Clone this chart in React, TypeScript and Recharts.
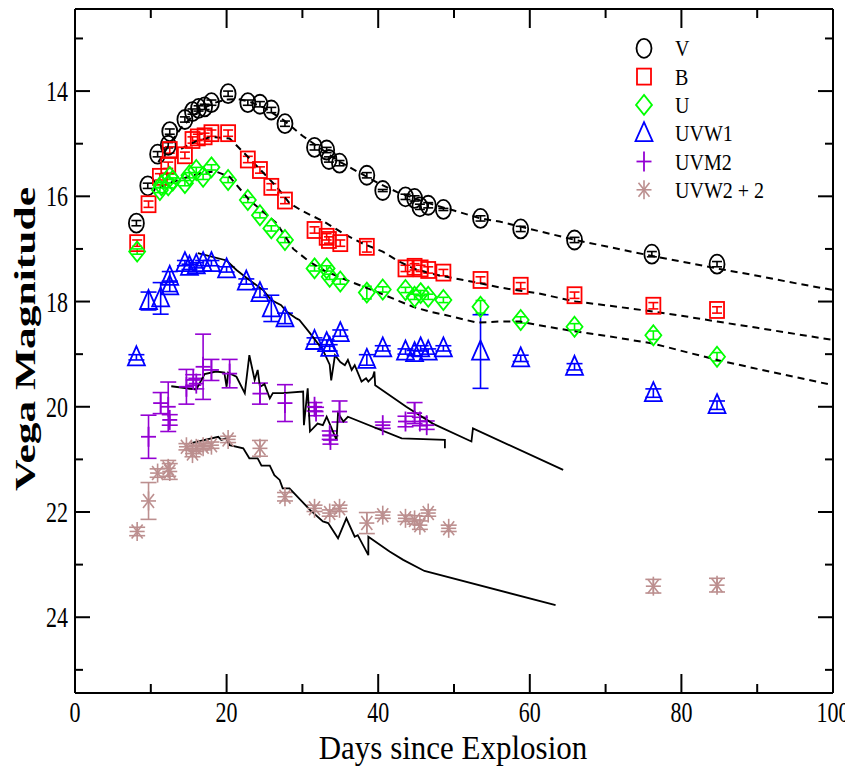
import React from 'react';
import { ComposedChart, Scatter, Line, XAxis, YAxis, ErrorBar, Legend } from 'recharts';

const FONT = '"Liberation Serif", "Times New Roman", serif';
const SY = 1.3;

// ---------- observations ----------
const vDays = [8.1, 9.6, 10.9, 12.3, 12.5, 14.5, 15.5, 16.3, 17.1, 18.0, 20.2, 22.8, 24.4, 25.9, 27.7, 31.6, 33.2, 33.5, 34.9, 38.5, 40.6, 43.6, 44.8, 45.5, 46.6, 48.6, 53.5, 58.8, 65.9, 76.1, 84.7];
const vMag = [16.51, 15.80, 15.20, 15.03, 14.77, 14.54, 14.39, 14.33, 14.30, 14.22, 14.05, 14.22, 14.25, 14.36, 14.62, 15.07, 15.12, 15.30, 15.37, 15.60, 15.89, 16.01, 16.04, 16.20, 16.17, 16.25, 16.42, 16.62, 16.83, 17.10, 17.29];
const vErr = [0.05, 0.05, 0.05, 0.05, 0.05, 0.05, 0.05, 0.05, 0.05, 0.05, 0.05, 0.05, 0.05, 0.05, 0.05, 0.05, 0.05, 0.05, 0.05, 0.05, 0.02, 0.05, 0.05, 0.05, 0.05, 0.02, 0.05, 0.05, 0.05, 0.05, 0.05];

const bDays = [8.2, 9.7, 11.2, 12.3, 12.5, 14.5, 15.5, 16.2, 17.1, 18.0, 20.2, 22.8, 24.4, 25.9, 27.7, 31.6, 33.2, 33.5, 35.0, 38.5, 43.6, 44.8, 45.6, 46.6, 48.6, 53.5, 58.8, 65.9, 76.3, 84.7];
const bMag = [16.89, 16.15, 15.63, 15.41, 15.12, 15.22, 14.93, 14.88, 14.86, 14.80, 14.80, 15.30, 15.50, 15.82, 16.08, 16.64, 16.77, 16.83, 16.89, 16.96, 17.37, 17.34, 17.37, 17.40, 17.45, 17.59, 17.70, 17.88, 18.08, 18.16];
const bErr = [0.06, 0.06, 0.06, 0.06, 0.06, 0.06, 0.06, 0.06, 0.06, 0.06, 0.06, 0.06, 0.06, 0.06, 0.06, 0.06, 0.06, 0.06, 0.06, 0.1, 0.06, 0.06, 0.06, 0.06, 0.06, 0.06, 0.06, 0.06, 0.06, 0.06];

const uDays = [8.2, 11.2, 11.4, 12.3, 12.5, 12.9, 14.5, 15.1, 16.0, 16.9, 18.0, 20.2, 22.8, 24.4, 25.9, 27.7, 31.6, 33.2, 33.6, 35.0, 38.5, 40.6, 43.6, 44.8, 45.6, 46.6, 48.6, 53.5, 58.8, 65.9, 76.3, 84.7];
const uMag = [17.05, 15.88, 15.79, 15.79, 15.63, 15.70, 15.75, 15.60, 15.50, 15.63, 15.45, 15.69, 16.07, 16.36, 16.61, 16.83, 17.37, 17.37, 17.53, 17.62, 17.83, 17.77, 17.78, 17.91, 17.84, 17.91, 17.97, 18.10, 18.35, 18.48, 18.64, 19.05];
const uErr = [0.05, 0.05, 0.05, 0.05, 0.05, 0.05, 0.05, 0.05, 0.05, 0.05, 0.05, 0.05, 0.05, 0.05, 0.05, 0.05, 0.05, 0.05, 0.05, 0.05, 0.12, 0.05, 0.05, 0.05, 0.05, 0.05, 0.05, 0.12, 0.06, 0.06, 0.08, 0.08];

const w1Days = [8.1, 9.7, 11.3, 12.5, 12.5, 14.5, 15.1, 16.0, 16.9, 18.0, 20.0, 22.6, 24.4, 25.9, 27.7, 31.6, 33.2, 33.6, 35.0, 38.5, 40.6, 43.6, 44.8, 45.6, 46.6, 48.6, 53.5, 58.8, 65.9, 76.3, 84.7];
const w1Mag = [19.06, 17.99, 17.94, 17.71, 17.53, 17.27, 17.34, 17.31, 17.27, 17.27, 17.39, 17.62, 17.84, 18.13, 18.32, 18.75, 18.79, 18.88, 18.60, 19.11, 18.89, 18.95, 18.98, 18.89, 18.95, 18.89, 18.95, 19.08, 19.24, 19.74, 19.97];
const w1Err = [0.05, 0.17, 0.3, 0.1, 0.1, 0.05, 0.05, 0.05, 0.05, 0.05, 0.05, 0.05, 0.08, 0.25, 0.1, 0.06, 0.06, 0.06, 0.06, 0.1, 0.05, 0.05, 0.05, 0.05, 0.05, 0.05, 0.7, 0.06, 0.06, 0.08, 0.08];

const m2Days = [9.7, 11.3, 12.3, 12.5, 14.7, 15.6, 16.0, 16.9, 18.0, 20.4, 24.4, 27.7, 31.6, 31.8, 33.6, 33.7, 34.9, 40.6, 43.6, 44.8, 45.5, 46.4];
const m2Mag = [20.57, 19.93, 20.00, 20.25, 19.62, 19.49, 19.56, 19.24, 19.30, 19.37, 19.75, 19.93, 20.00, 20.09, 20.54, 20.63, 20.09, 20.35, 20.28, 20.12, 20.28, 20.35];
const m2Err = [0.41, 0.2, 0.47, 0.1, 0.33, 0.1, 0.1, 0.62, 0.2, 0.27, 0.2, 0.35, 0.08, 0.08, 0.08, 0.08, 0.2, 0.06, 0.1, 0.2, 0.08, 0.08];

const w2Days = [8.2, 9.7, 10.9, 12.3, 12.5, 14.7, 15.5, 16.0, 16.9, 18.0, 20.2, 24.4, 27.7, 31.6, 33.6, 34.9, 38.5, 40.6, 43.6, 44.8, 45.5, 46.6, 49.3, 76.3, 84.7];
const w2Mag = [22.37, 21.79, 21.26, 21.17, 21.23, 20.76, 20.89, 20.79, 20.76, 20.73, 20.62, 20.79, 21.71, 21.93, 22.02, 21.93, 22.21, 22.06, 22.12, 22.15, 22.25, 22.02, 22.31, 23.41, 23.39];
const w2Err = [0.08, 0.35, 0.08, 0.15, 0.15, 0.06, 0.06, 0.06, 0.06, 0.06, 0.06, 0.15, 0.08, 0.06, 0.06, 0.06, 0.2, 0.06, 0.06, 0.08, 0.08, 0.06, 0.06, 0.13, 0.13];

// ---------- model curves ----------
const vFitDays = [11, 12.5, 14, 15.5, 17, 18.5, 20, 21.5, 23, 25, 27.5, 30, 32.5, 35, 37.5, 40, 42.5, 45, 47.5, 50, 53.5, 56, 60, 66, 70, 76, 80, 85, 90, 95, 100];
const vFitMag = [15.35, 15.0, 14.7, 14.48, 14.32, 14.22, 14.16, 14.15, 14.2, 14.32, 14.55, 14.85, 15.1, 15.35, 15.55, 15.75, 15.92, 16.05, 16.17, 16.27, 16.42, 16.48, 16.62, 16.83, 16.95, 17.13, 17.24, 17.38, 17.51, 17.65, 17.78];

const bFitDays = [14, 16, 18, 20.4, 22.6, 24.5, 26.6, 28.3, 30, 32.7, 35.8, 38, 40.6, 42.5, 44.6, 47, 49, 53.4, 56, 58, 61, 66, 70, 76.3, 80, 84.7, 90, 100];
const bFitMag = [15.1, 14.95, 14.87, 14.9, 15.22, 15.5, 15.82, 16.13, 16.28, 16.47, 16.74, 16.9, 17.05, 17.22, 17.37, 17.47, 17.53, 17.65, 17.73, 17.78, 17.84, 18.0, 18.07, 18.19, 18.27, 18.38, 18.5, 18.73];

const uFitDays = [11.2, 13, 15.1, 16.9, 18.6, 20.4, 23, 26.6, 28.8, 31, 33, 35.8, 40.2, 42.4, 44.6, 47, 49, 53, 56, 58.7, 62, 66.1, 70, 76.3, 84.7, 90, 100];
const uFitMag = [15.82, 15.72, 15.62, 15.55, 15.53, 15.63, 16.07, 16.51, 17.0, 17.25, 17.42, 17.59, 17.84, 17.97, 18.1, 18.2, 18.26, 18.4, 18.38, 18.38, 18.47, 18.57, 18.65, 18.8, 19.11, 19.28, 19.59];

const w1ModelDays = [16.2, 20.0, 21.3, 23.0, 24.8, 25.9, 27.2, 27.9, 29.2, 29.6, 31.0, 32.7, 33.6, 33.8, 34.3, 35.0, 35.6, 36.0, 36.5, 36.9, 37.8, 38.4, 38.7, 39.3, 39.5, 39.6, 43.7, 47.2, 52.3, 52.5, 64.4];
const w1ModelMag = [17.08, 17.22, 17.40, 17.59, 17.78, 17.97, 18.07, 18.19, 18.32, 18.35, 18.60, 18.92, 19.2, 19.5, 19.02, 19.15, 19.21, 19.11, 19.30, 19.21, 19.52, 19.46, 19.52, 19.43, 19.33, 19.59, 20.0, 20.32, 20.66, 20.41, 21.2];

const m2ModelDays = [12.7, 16.0, 17.1, 18.6, 19.7, 20.0, 20.2, 21.3, 22.4, 23.0, 23.7, 24.1, 24.4, 25.0, 25.7, 26.1, 27.4, 30.1, 30.2, 30.7, 31.0, 32.0, 32.7, 33.2, 34.5, 34.7, 35.4, 36.0, 43.1, 48.8, 48.8];
const m2ModelMag = [19.61, 19.67, 19.38, 19.33, 19.35, 19.62, 19.35, 19.43, 19.74, 19.02, 19.49, 19.30, 19.62, 19.57, 19.84, 19.74, 19.74, 19.71, 20.35, 19.65, 20.47, 20.32, 20.35, 20.19, 20.63, 20.12, 20.28, 20.19, 20.60, 20.63, 20.79];

const w2ModelDays = [15.3, 18.9, 19.3, 19.9, 20.4, 22.2, 23.0, 24.1, 24.6, 25.7, 26.3, 27.0, 27.4, 28.3, 31.0, 32.7, 33.4, 34.7, 35.8, 36.9, 37.3, 38.7, 38.7, 41.5, 43.3, 46.1, 63.4];
const w2ModelMag = [20.69, 20.57, 20.63, 20.6, 20.73, 20.79, 20.98, 20.98, 21.12, 21.12, 21.30, 21.39, 21.55, 21.55, 21.96, 22.18, 22.21, 22.50, 22.12, 22.47, 22.44, 22.82, 22.47, 22.75, 22.91, 23.12, 23.77];

// ---------- axes ----------
const xTicks = [0, 10, 20, 30, 40, 50, 60, 70, 80, 90, 100];
const yTicks = [13, 14, 15, 16, 17, 18, 19, 20, 21, 22, 23, 24, 25];
const legendNames = ['V', 'B', 'U', 'UVW1', 'UVM2', 'UVW2 + 2'];
const legendColors = ['#000000', '#ff0000', '#00ff00', '#0000ff', '#9400d3', '#bc8f8f'];

const obs = (d: number[], m: number[], e: number[]) => d.map((x, i) => ({ x, y: m[i], err: e[i] }));
const curve = (d: number[], m: number[]) => d.map((x, i) => ({ x, y: m[i] }));

const SW = 1.8;

const drawMarker = (kind: number, cx: number, cy: number, color: string) => {
  switch (kind) {
    case 0:
      return <ellipse cx={cx} cy={cy} rx={7.5} ry={9.5} fill="none" stroke={color} strokeWidth={SW} />;
    case 1:
      return <rect x={cx - 7} y={cy - 8} width={14} height={16} fill="none" stroke={color} strokeWidth={SW} />;
    case 2:
      return <polygon points={`${cx},${cy - 10} ${cx + 8},${cy} ${cx},${cy + 10} ${cx - 8},${cy}`} fill="none" stroke={color} strokeWidth={SW} />;
    case 3:
      return <polygon points={`${cx},${cy - 11} ${cx + 8.5},${cy + 8} ${cx - 8.5},${cy + 8}`} fill="none" stroke={color} strokeWidth={SW} />;
    case 4:
      return (
        <g stroke={color} strokeWidth={SW}>
          <line x1={cx - 7.5} y1={cy} x2={cx + 7.5} y2={cy} />
          <line x1={cx} y1={cy - 10} x2={cx} y2={cy + 10} />
        </g>
      );
    default:
      return (
        <g stroke={color} strokeWidth={1.6}>
          <line x1={cx - 7.5} y1={cy} x2={cx + 7.5} y2={cy} />
          <line x1={cx} y1={cy - 9.5} x2={cx} y2={cy + 9.5} />
          <line x1={cx - 5.5} y1={cy - 7} x2={cx + 5.5} y2={cy + 7} />
          <line x1={cx - 5.5} y1={cy + 7} x2={cx + 5.5} y2={cy - 7} />
        </g>
      );
  }
};

const shapeFor = (kind: number, color: string) => (p: any) => (
  p.cx == null ? <g /> : drawMarker(kind, p.cx, p.cy, color)
);

const BottomTick = (p: any) => {
  const { x, y, payload } = p;
  const v = payload.value;
  const major = v % 20 === 0;
  return (
    <g>
      <line x1={x} y1={y} x2={x} y2={y - (major ? 19 : 9)} stroke="#000" strokeWidth={2} />
      {major && (
        <text transform={`translate(${x},${y + 29}) scale(1,${SY})`} textAnchor="middle" fontFamily={FONT} fontSize={22} fill="#000">
          {v}
        </text>
      )}
    </g>
  );
};

const TopTick = (p: any) => {
  const { x, y, payload } = p;
  const major = payload.value % 20 === 0;
  return <line x1={x} y1={y} x2={x} y2={y + (major ? 19 : 9)} stroke="#000" strokeWidth={2} />;
};

const LeftTick = (p: any) => {
  const { x, y, payload } = p;
  const v = payload.value;
  const major = v % 2 === 0;
  return (
    <g>
      <line x1={x} y1={y} x2={x + (major ? 15 : 8)} y2={y} stroke="#000" strokeWidth={2} />
      {major && (
        <text transform={`translate(${x - 7},${y + 10}) scale(1,${SY})`} textAnchor="end" fontFamily={FONT} fontSize={22} fill="#000">
          {v}
        </text>
      )}
    </g>
  );
};

const RightTick = (p: any) => {
  const { x, y, payload } = p;
  const major = payload.value % 2 === 0;
  return <line x1={x} y1={y} x2={x - (major ? 15 : 8)} y2={y} stroke="#000" strokeWidth={2} />;
};

const renderLegend = () => (
  <svg width={840} height={220} style={{ overflow: 'visible' }}>
    {legendNames.map((name, i) => {
      const cy = 40.3 + 28.3 * i;
      return (
        <g key={name}>
          {drawMarker(i, 636, cy, legendColors[i])}
          <text transform={`translate(667,${cy + 8}) scale(1,1.15)`} fontFamily={FONT} fontSize={20} fill="#000">
            {name}
          </text>
        </g>
      );
    })}
  </svg>
);

const series = [
  { data: obs(vDays, vMag, vErr), kind: 0, cap: 5 },
  { data: obs(bDays, bMag, bErr), kind: 1, cap: 5 },
  { data: obs(uDays, uMag, uErr), kind: 2, cap: 5 },
  { data: obs(w1Days, w1Mag, w1Err), kind: 3, cap: 8 },
  { data: obs(m2Days, m2Mag, m2Err), kind: 4, cap: 8 },
  { data: obs(w2Days, w2Mag, w2Err), kind: 5, cap: 8 },
];

const fits = [curve(vFitDays, vFitMag), curve(bFitDays, bFitMag), curve(uFitDays, uFitMag)];
const models = [curve(w1ModelDays, w1ModelMag), curve(m2ModelDays, m2ModelMag), curve(w2ModelDays, w2ModelMag)];

export default function App() {
  return (
    <div style={{ position: 'relative', width: 840, height: 758 }}>
      <ComposedChart width={840} height={758} margin={{ top: 0, right: 5, bottom: 13, left: 5 }}>
        <XAxis
          xAxisId={0}
          dataKey="x"
          type="number"
          domain={[0, 100]}
          ticks={xTicks}
          interval={0}
          allowDataOverflow
          height={60}
          tickSize={0}
          tickMargin={0}
          tickLine={false}
          axisLine={{ stroke: '#000', strokeWidth: 2 }}
          tick={<BottomTick />}
        />
        <XAxis
          xAxisId="top"
          orientation="top"
          dataKey="x"
          type="number"
          domain={[0, 100]}
          ticks={xTicks}
          interval={0}
          allowDataOverflow
          height={1}
          tickSize={0}
          tickMargin={0}
          tickLine={false}
          axisLine={{ stroke: '#000', strokeWidth: 2 }}
          tick={<TopTick />}
        />
        <YAxis
          yAxisId={0}
          dataKey="y"
          type="number"
          reversed
          domain={[12.44, 25.44]}
          ticks={yTicks}
          interval={0}
          allowDataOverflow
          width={62}
          tickSize={0}
          tickMargin={0}
          tickLine={false}
          axisLine={{ stroke: '#000', strokeWidth: 2 }}
          tick={<LeftTick />}
        />
        <YAxis
          yAxisId="right"
          orientation="right"
          dataKey="y"
          type="number"
          reversed
          domain={[12.44, 25.44]}
          ticks={yTicks}
          interval={0}
          allowDataOverflow
          width={10}
          tickSize={0}
          tickMargin={0}
          tickLine={false}
          axisLine={{ stroke: '#000', strokeWidth: 2 }}
          tick={<RightTick />}
        />
        {series.map((s, i) => (
          <Scatter
            key={legendNames[i]}
            name={legendNames[i]}
            data={s.data}
            dataKey="y"
            shape={shapeFor(s.kind, legendColors[i])}
            isAnimationActive={false}
          >
            <ErrorBar dataKey="err" direction="y" width={s.cap} stroke={legendColors[i]} strokeWidth={1.6} />
          </Scatter>
        ))}
        {fits.map((d, i) => (
          <Line
            key={'fit' + i}
            data={d}
            dataKey="y"
            type="linear"
            dot={false}
            stroke="#000"
            strokeWidth={2}
            strokeDasharray="7 5"
            isAnimationActive={false}
            legendType="none"
          />
        ))}
        {models.map((d, i) => (
          <Line
            key={'model' + i}
            data={d}
            dataKey="y"
            type="linear"
            dot={false}
            stroke="#000"
            strokeWidth={1.8}
            isAnimationActive={false}
            legendType="none"
          />
        ))}
        <Legend
          layout="horizontal"
          verticalAlign="middle"
          align="center"
          content={renderLegend}
          wrapperStyle={{ position: 'absolute', left: 0, top: 0, width: 840, height: 220, pointerEvents: 'none' }}
        />
        <text transform="translate(27,331) rotate(-90) scale(1.5,1)" textAnchor="middle" fontFamily={FONT} fontSize={29} fontWeight="bold" fill="#000">
          Vega Magnitude
        </text>
        <text transform="translate(445,751) scale(1,1.1)" textAnchor="middle" fontFamily={FONT} fontSize={31} fill="#000">
          Days since Explosion
        </text>
      </ComposedChart>
    </div>
  );
}
